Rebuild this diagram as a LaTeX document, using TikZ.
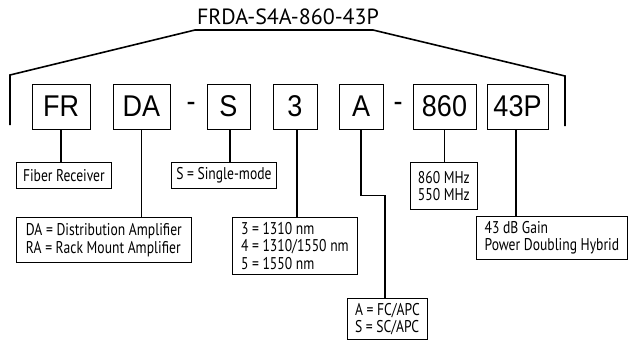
\documentclass[tikz,border=0pt]{standalone}
\usepackage{fontspec}
\usetikzlibrary{positioning}
\newfontfamily\codefont[FakeStretch=0.9]{Liberation Sans}
\newfontfamily\lblfont[FakeStretch=0.8]{PT Sans}
\newfontfamily\titlefont{PT Sans}

\begin{document}
\begin{tikzpicture}[
  x=1pt, y=-1pt,
  codebox/.style={
    draw,
    line width=0.8pt,
    minimum height=45pt,
    inner sep=0pt,
    font=\codefont\fontsize{30}{32}\selectfont
  },
  lblbox/.style={
    draw,
    line width=0.8pt,
    anchor=north west,
    align=left,
    inner sep=2pt,
    font=\lblfont\fontsize{17}{17.5}\selectfont
  },
  bracket/.style={line width=1.6pt},
  link/.style={line width=1.1pt}
]

\useasboundingbox (0,0) rectangle (628,341);

% title and bracket
\node[font=\titlefont\fontsize{22}{24}\selectfont] (title) at (288,17) {FRDA-S4A-860-43P};
\draw[bracket] (10,125) -- (10,75) -- (195,30) -- (373,30) -- (565,76) -- (565,126);

% code boxes
\node[codebox, minimum width=58pt] (fr) at (61,106.5) {FR};
\node[codebox, minimum width=57pt] (da) at (141.5,106.5) {DA};
\node[codebox, minimum width=43pt] (s) at (228.5,106.5) {S};
\node[codebox, minimum width=44pt] (wl) at (295,106.5) {3};
\node[codebox, minimum width=44pt] (con) at (361,106.5) {A};
\node[codebox, minimum width=63pt] (freq) at (444.5,106.5) {860};
\node[codebox, minimum width=61pt] (gain) at (517.5,106.5) {43P};
\node[font=\codefont\fontsize{30}{32}\selectfont] (dash1) at (191,106.5) {-};
\node[font=\codefont\fontsize{30}{32}\selectfont] (dash2) at (398,106.5) {-};

% descriptions
\node[lblbox, minimum width=95pt, minimum height=26pt] (frtxt) at (16,162) {Fiber Receiver};
\node[lblbox, minimum width=105pt, minimum height=26pt] (stxt) at (171,162) {S = Single-mode};
\node[lblbox, minimum width=175pt, minimum height=45pt] (datxt) at (16,217) {DA = Distribution Amplifier\\RA = Rack Mount Amplifier};
\node[lblbox, minimum width=125pt, minimum height=57pt] (wltxt) at (232,217) {3 = 1310 nm\\4 = 1310/1550 nm\\5 = 1550 nm};
\node[lblbox, minimum width=80pt, minimum height=41pt] (contxt) at (347,298) {A = FC/APC\\S = SC/APC};
\node[lblbox, minimum width=67pt, minimum height=47pt] (freqtxt) at (410,162) {860 MHz\\550 MHz};
\node[lblbox, minimum width=151pt, minimum height=43pt] (gaintxt) at (476,216) {43 dB Gain\\Power Doubling Hybrid};

% connectors
\draw[link] (fr.south) -- (fr.south |- frtxt.north);
\draw[link] (da.south) -- (da.south |- datxt.north);
\draw[link] (s.south) ++(1.5,0) coordinate (sdrop) -- (sdrop |- stxt.north);
\draw[link] (wl.south) ++(2,0) coordinate (wldrop) -- (wldrop |- wltxt.north);
\draw[link] (con.south) -- ++(0,66) -| ([xshift=38pt]contxt.north west);
\draw[link] (freq.south) -- (freq.south |- freqtxt.north);
\draw[link] (gain.south) ++(-1.5,0) coordinate (gdrop) -- (gdrop |- gaintxt.north);

\end{tikzpicture}
\end{document}
